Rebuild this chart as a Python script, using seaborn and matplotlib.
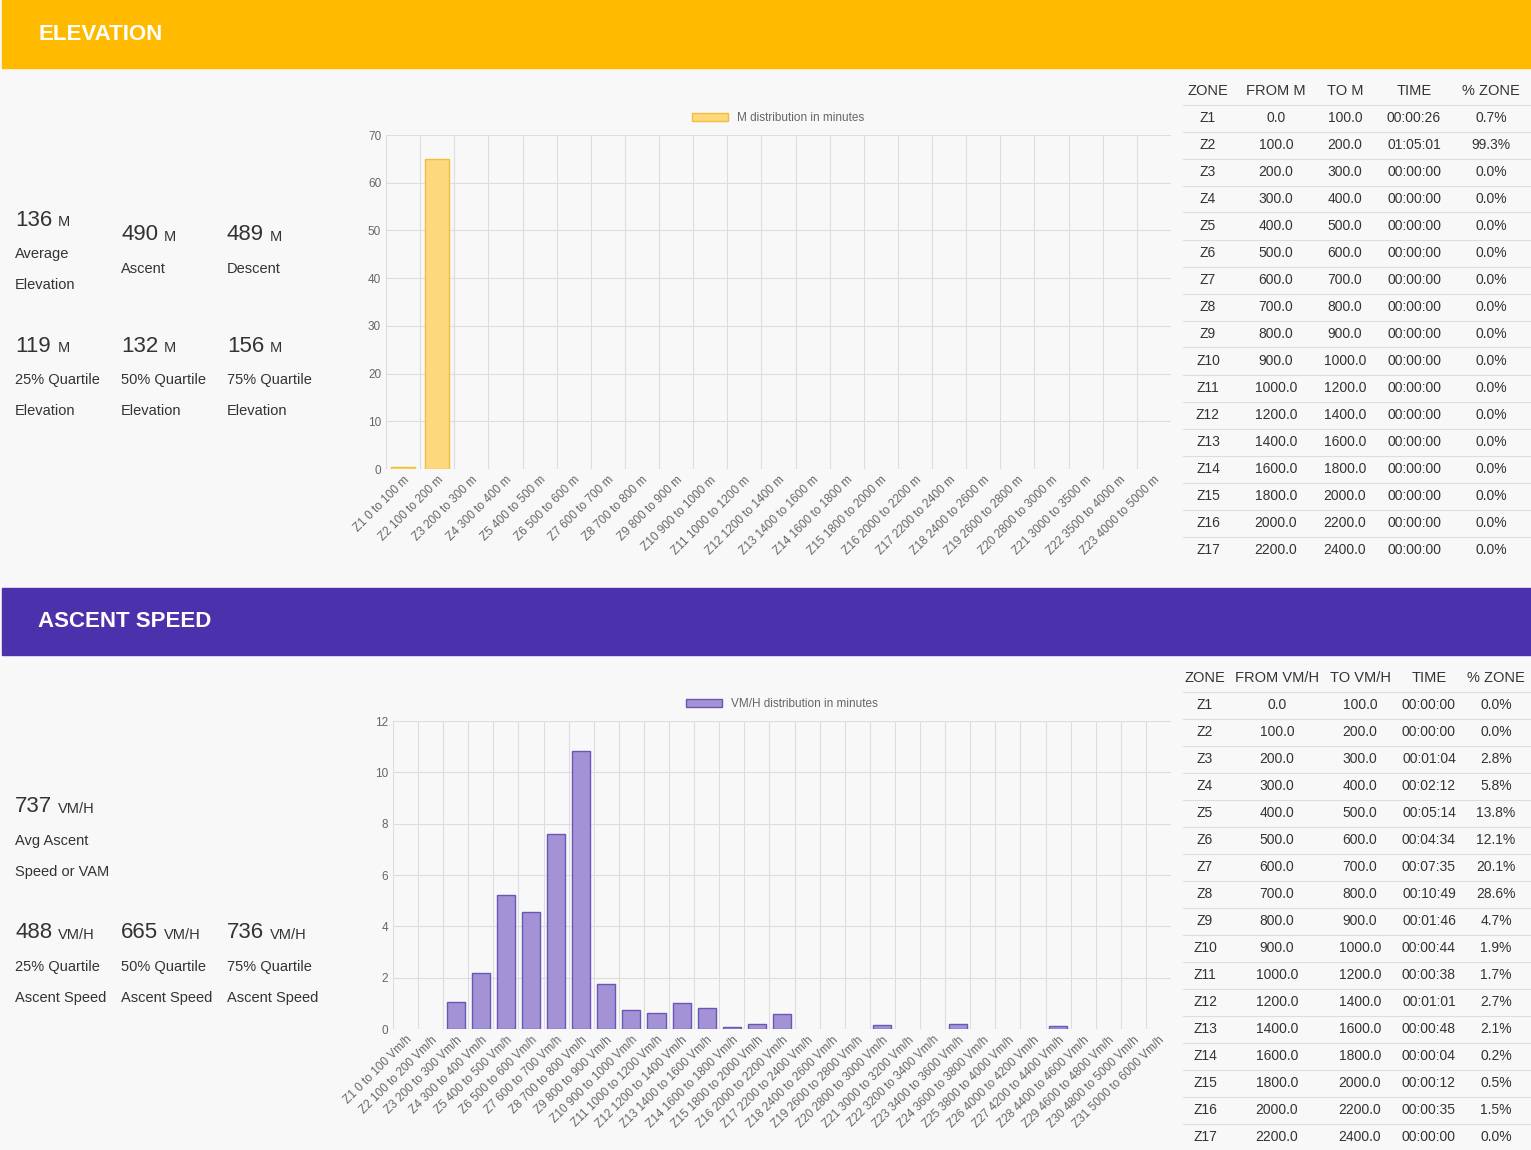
import numpy as np
import pandas as pd
import matplotlib
matplotlib.use("Agg")
import matplotlib.pyplot as plt
import seaborn as sns
from matplotlib.patches import Rectangle, Patch

# ---- data ----
elev_zones = [f"Z{i+1} {a} to {b} m" for i, (a, b) in enumerate(
    [(0, 100), (100, 200), (200, 300), (300, 400), (400, 500), (500, 600), (600, 700), (700, 800),
     (800, 900), (900, 1000), (1000, 1200), (1200, 1400), (1400, 1600), (1600, 1800), (1800, 2000),
     (2000, 2200), (2200, 2400), (2400, 2600), (2600, 2800), (2800, 3000), (3000, 3500),
     (3500, 4000), (4000, 5000)])]
elev_minutes = [0.43, 65.02] + [0] * 21

asc_bounds = [(0, 100), (100, 200), (200, 300), (300, 400), (400, 500), (500, 600), (600, 700),
              (700, 800), (800, 900), (900, 1000), (1000, 1200), (1200, 1400), (1400, 1600),
              (1600, 1800), (1800, 2000), (2000, 2200), (2200, 2400), (2400, 2600), (2600, 2800),
              (2800, 3000), (3000, 3200), (3200, 3400), (3400, 3600), (3600, 3800), (3800, 4000),
              (4000, 4200), (4200, 4400), (4400, 4600), (4600, 4800), (4800, 5000), (5000, 6000)]
asc_zones = [f"Z{i+1} {a} to {b} Vm/h" for i, (a, b) in enumerate(asc_bounds)]
asc_minutes = [0, 0, 1.07, 2.2, 5.23, 4.57, 7.58, 10.82, 1.77, 0.73, 0.63, 1.02, 0.8, 0.07, 0.2,
               0.58, 0, 0, 0, 0.15, 0, 0, 0.2, 0, 0, 0, 0.12, 0, 0, 0, 0]

tbl_from = [0, 100, 200, 300, 400, 500, 600, 700, 800, 900, 1000, 1200, 1400, 1600, 1800, 2000, 2200]
tbl_to = [100, 200, 300, 400, 500, 600, 700, 800, 900, 1000, 1200, 1400, 1600, 1800, 2000, 2200, 2400]
elev_time = ["00:00:26", "01:05:01"] + ["00:00:00"] * 15
elev_pct = ["0.7%", "99.3%"] + ["0.0%"] * 15
asc_time = ["00:00:00", "00:00:00", "00:01:04", "00:02:12", "00:05:14", "00:04:34", "00:07:35",
            "00:10:49", "00:01:46", "00:00:44", "00:00:38", "00:01:01", "00:00:48", "00:00:04",
            "00:00:12", "00:00:35", "00:00:00"]
asc_pct = ["0.0%", "0.0%", "2.8%", "5.8%", "13.8%", "12.1%", "20.1%", "28.6%", "4.7%", "1.9%",
           "1.7%", "2.7%", "2.1%", "0.2%", "0.5%", "1.5%", "0.0%"]

elev_stats = [("136", "M", "Average", "Elevation"), ("490", "M", "Ascent", ""), ("489", "M", "Descent", ""),
              ("119", "M", "25% Quartile", "Elevation"), ("132", "M", "50% Quartile", "Elevation"),
              ("156", "M", "75% Quartile", "Elevation")]
asc_stats = [("737", "VM/H", "Avg Ascent", "Speed or VAM"),
             ("488", "VM/H", "25% Quartile", "Ascent Speed"), ("665", "VM/H", "50% Quartile", "Ascent Speed"),
             ("736", "VM/H", "75% Quartile", "Ascent Speed")]

# ---- figure ----
sns.set_theme(style="whitegrid")
plt.rcParams["font.family"] = ["Liberation Sans", "DejaVu Sans"]
W, H = 1531, 1150
fig = plt.figure(figsize=(W / 100, H / 100), dpi=100, facecolor="#f8f8f8")
TXT = "#333333"


def fx(x):
    return x / W


def fy(y):
    return 1 - y / H


def header(y0, y1, color, title):
    fig.patches.append(Rectangle((fx(2), fy(y1)), 1, (y1 - y0) / H, transform=fig.transFigure,
                                 color=color, zorder=0))
    fig.text(fx(38), fy((y0 + y1) / 2), title, color="white", fontsize=16, fontweight="bold",
             va="center")


header(0, 68, "#ffba00", "ELEVATION")
header(588, 655, "#4b31ac", "ASCENT SPEED")


def stat(x, y, val, unit, l1, l2):
    fig.text(fx(x), fy(y), val, fontsize=16, color=TXT, va="center")
    fig.text(fx(x + 13 * len(val) + 4), fy(y + 2), unit, fontsize=10.5, color=TXT, va="center")
    fig.text(fx(x), fy(y + 34), l1, fontsize=10.5, color=TXT, va="center")
    if l2:
        fig.text(fx(x), fy(y + 65), l2, fontsize=10.5, color=TXT, va="center")


for (v, u, a, b), (x, y) in zip(elev_stats, [(15, 220), (121, 235), (227, 235), (15, 346), (121, 346), (227, 346)]):
    stat(x, y, v, u, a, b)
for (v, u, a, b), (x, y) in zip(asc_stats, [(15, 807), (15, 933), (121, 933), (227, 933)]):
    stat(x, y, v, u, a, b)


def chart(x0, x1, y0, y1, zones, vals, ymax, step, fc, ec, label):
    ax = fig.add_axes([fx(x0), fy(y1), (x1 - x0) / W, (y1 - y0) / H])
    ax.set_facecolor("#f8f8f8")
    df = pd.DataFrame({"zone": zones, "val": vals})
    sns.barplot(data=df, x="zone", y="val", ax=ax, color=fc, edgecolor=ec, linewidth=1,
                width=0.72, saturation=1)
    for p, v in zip(ax.patches, vals):
        if v == 0:
            p.set_linewidth(0)
    n = len(zones)
    ax.set_xlim(-0.5, n - 0.5)
    ax.set_ylim(0, ymax)
    ax.set_yticks(np.arange(0, ymax + 0.1, step))
    ax.set_xlabel("")
    ax.set_ylabel("")
    ax.set_xticks(range(n))
    ax.set_xticks(np.arange(-0.5, n, 1), minor=True)
    ax.grid(False, axis="x", which="major")
    ax.grid(True, axis="x", which="minor", color="#dddddd", linewidth=0.8)
    ax.grid(True, axis="y", color="#dddddd", linewidth=0.8)
    ax.set_axisbelow(True)
    for s in ax.spines.values():
        s.set_visible(False)
    ax.tick_params(axis="both", which="both", labelsize=8.5, colors="#666666", length=0)
    ax.set_xticklabels(zones, rotation=45, ha="right", rotation_mode="anchor")
    ax.legend(handles=[Patch(facecolor=fc, edgecolor=ec, label=label)], loc="lower center",
              bbox_to_anchor=(0.5, 1.0), frameon=False, fontsize=8.5, labelcolor="#666666",
              handlelength=3)
    return ax


chart(386, 1171, 135, 469, elev_zones, elev_minutes, 70, 10, "#fdd87c", "#f2bd3a",
      "M distribution in minutes")
chart(393, 1171, 721, 1029, asc_zones, asc_minutes, 12, 2, "#a393d6", "#6a56b6",
      "VM/H distribution in minutes")


def table(y0, heads, cols_x, froms, tos, times, pcts):
    for h, x in zip(heads, cols_x):
        fig.text(fx(x), fy(y0), h, fontsize=10.5, color=TXT, ha="center", va="center")
    for i in range(len(times)):
        y = y0 + 27 * (i + 1)
        fig.lines.append(plt.Line2D([fx(1183), fx(1531)], [fy(y - 13.5)] * 2,
                                    transform=fig.transFigure, color="#dddddd", lw=0.8))
        row = [f"Z{i+1}", f"{froms[i]:.1f}", f"{tos[i]:.1f}", times[i], pcts[i]]
        for t, x in zip(row, cols_x):
            fig.text(fx(x), fy(y), t, fontsize=10, color=TXT, ha="center", va="center")


table(91, ["ZONE", "FROM M", "TO M", "TIME", "% ZONE"], [1208, 1276, 1345, 1414, 1491],
      tbl_from, tbl_to, elev_time, elev_pct)
table(678, ["ZONE", "FROM VM/H", "TO VM/H", "TIME", "% ZONE"], [1205, 1277, 1360, 1429, 1496],
      tbl_from, tbl_to, asc_time, asc_pct)

fig.savefig("out.png", dpi=100, facecolor=fig.get_facecolor())
